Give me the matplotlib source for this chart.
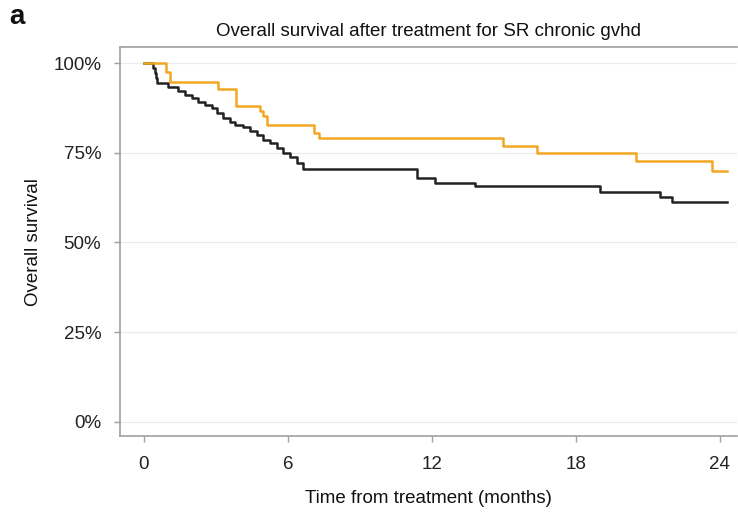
import numpy as np
import matplotlib.pyplot as plt

plt.rcParams['font.family'] = ['Liberation Sans', 'DejaVu Sans']

# step times (months) and survival (%) after each event
black_times = [0.39, 0.45, 0.50, 0.55, 1.01, 1.43, 1.71, 1.99, 2.26, 2.54, 2.82,
               3.03, 3.29, 3.58, 3.79, 4.12, 4.42, 4.70, 4.96, 5.25, 5.53, 5.79,
               6.08, 6.36, 6.62, 11.4, 12.15, 13.8, 19.0, 21.5, 22.0]
black_surv = [98.6, 97.2, 95.8, 94.4, 93.4, 92.1, 91.1, 90.2, 89.2, 88.3, 87.4,
              86.1, 84.8, 83.7, 82.8, 82.1, 81.2, 79.9, 78.6, 77.6, 76.3, 75.0,
              73.8, 72.2, 70.5, 68.1, 66.7, 65.6, 64.2, 62.7, 61.3]

orange_times = [0.92, 1.08, 3.10, 3.83, 4.83, 4.97, 5.11, 7.10, 7.30,
                14.96, 16.4, 20.5, 23.7]
orange_surv = [97.4, 94.8, 92.8, 87.9, 86.6, 85.2, 82.7, 80.6, 79.0,
               77.0, 75.0, 72.6, 69.8]

end_time = 24.3
x_ticks = [0, 6, 12, 18, 24]
y_ticks = [0, 25, 50, 75, 100]
y_labels = ['0%', '25%', '50%', '75%', '100%']


def km_path(times, surv):
    xs = [0] + list(times) + [end_time]
    ys = [100] + list(surv) + [surv[-1]]
    return xs, ys


fig = plt.figure(figsize=(7.38, 5.19), dpi=100)
ax = fig.add_axes([0.1626, 0.160, 0.836, 0.749])

for y in y_ticks:
    ax.axhline(y, color='#ebebeb', lw=0.9, zorder=0)

xs, ys = km_path(black_times, black_surv)
ax.step(xs, ys, where='post', color='#222222', lw=1.8, zorder=3)
xs, ys = km_path(orange_times, orange_surv)
ax.step(xs, ys, where='post', color='#F2A724', lw=1.8, zorder=3)

ax.set_xlim(-1.0, 24.72)
ax.set_ylim(-3.9, 104.4)
ax.set_xticks(x_ticks)
ax.set_yticks(y_ticks)
ax.set_yticklabels(y_labels)

for s in ax.spines.values():
    s.set_color('#a0a0a0')
    s.set_linewidth(1.2)
ax.spines['right'].set_visible(False)
ax.tick_params(direction='out', length=4.5, width=1, color='#a0a0a0',
               labelsize=13.5, labelcolor='#222222')
ax.tick_params(axis='x', pad=10)
ax.tick_params(axis='y', pad=9)

ax.set_title('Overall survival after treatment for SR chronic gvhd',
             fontsize=13.5, pad=8, color='#111111')
ax.set_xlabel('Time from treatment (months)', fontsize=13.5, labelpad=12, color='#111111')
ax.set_ylabel('Overall survival', fontsize=13.5, labelpad=8, color='#111111')

fig.text(0.013, 0.953, 'a', fontsize=20, fontweight='bold', color='#111111')

fig.savefig('out.png', dpi=100)
